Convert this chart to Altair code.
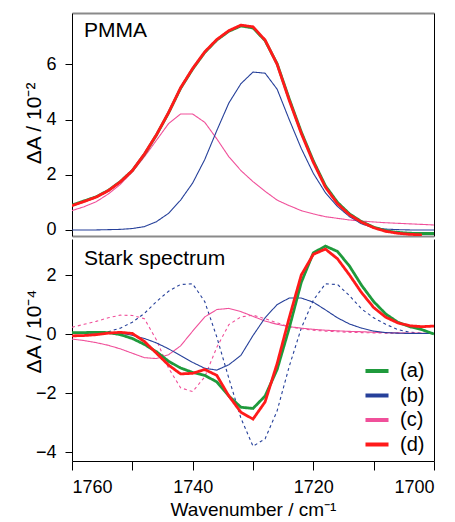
import altair as alt
import pandas as pd

FONT = "Liberation Sans"
GREEN, BLUE, PINK, RED = "#1f9a3c", "#26409a", "#f0509a", "#ff1a1a"

wn = list(range(1760, 1698, -2))  # 1760 ... 1700

# ---- PMMA absorbance (x 10^-2)
top_a = [0.90, 1.05, 1.20, 1.43, 1.75, 2.15, 2.74, 3.44, 4.24, 5.13, 5.83, 6.43, 6.88, 7.20, 7.39,
         7.32, 6.86, 6.02, 4.75, 3.55, 2.50, 1.60, 1.00, 0.58, 0.30, 0.10, -0.03, -0.09, -0.12, -0.13, -0.13]
top_b = [0.00, 0.00, 0.00, 0.01, 0.02, 0.05, 0.12, 0.30, 0.60, 1.08, 1.70, 2.55, 3.60, 4.60, 5.30,
         5.72, 5.68, 5.10, 4.00, 2.95, 2.05, 1.35, 0.85, 0.48, 0.22, 0.08, 0.03, 0.01, 0.00, 0.00, 0.00]
top_c = [0.70, 0.84, 1.02, 1.30, 1.65, 2.10, 2.65, 3.25, 3.85, 4.20, 4.20, 3.90, 3.30, 2.65, 2.15,
         1.75, 1.40, 1.08, 0.88, 0.70, 0.58, 0.48, 0.42, 0.36, 0.32, 0.29, 0.26, 0.24, 0.22, 0.20, 0.18]
top_d = [0.88, 1.03, 1.19, 1.42, 1.74, 2.15, 2.75, 3.45, 4.25, 5.15, 5.85, 6.45, 6.90, 7.22, 7.42,
         7.36, 6.88, 6.00, 4.70, 3.50, 2.45, 1.55, 0.95, 0.55, 0.28, 0.08, -0.05, -0.12, -0.16, -0.18]

# ---- Stark spectrum (x 10^-4)
bot_a = [0.05, 0.05, 0.06, 0.05, -0.02, -0.15, -0.35, -0.60, -0.92, -1.15, -1.30, -1.40, -1.62, -2.10, -2.48,
         -2.52, -2.10, -1.20, 0.20, 1.75, 2.75, 2.98, 2.80, 2.30, 1.65, 1.10, 0.68, 0.40, 0.25, 0.15, 0.00]
bot_b = [0.02, 0.03, 0.04, 0.05, 0.03, -0.04, -0.15, -0.30, -0.50, -0.73, -0.96, -1.16, -1.22, -1.04, -0.72,
         -0.05, 0.55, 1.00, 1.22, 1.22, 1.08, 0.82, 0.55, 0.34, 0.20, 0.10, 0.05, 0.03, 0.02, 0.02, 0.02]
bot_b_dash = [0.02, 0.03, 0.05, 0.08, 0.20, 0.40, 0.70, 1.10, 1.45, 1.68, 1.70, 1.10, -0.10, -1.50, -2.85,
              -3.80, -3.55, -2.60, -1.10, 0.20, 1.15, 1.70, 1.68, 1.30, 0.85, 0.55, 0.33, 0.15, 0.06, 0.03, 0.02]
bot_c = [-0.17, -0.22, -0.29, -0.38, -0.50, -0.65, -0.80, -0.83, -0.70, -0.40, 0.10, 0.58, 0.83, 0.87, 0.76,
         0.60, 0.44, 0.33, 0.25, 0.20, 0.16, 0.13, 0.11, 0.09, 0.08, 0.06, 0.05, 0.04, 0.03, 0.03, 0.02]
bot_c_dash = [0.23, 0.33, 0.43, 0.55, 0.64, 0.63, 0.52, -0.20, -1.15, -1.82, -1.95, -1.45, -0.45, 0.32, 0.58,
              0.64, 0.52, 0.38, 0.25, 0.18, 0.13, 0.10, 0.08, 0.06, 0.05, 0.04, 0.03, 0.03, 0.02, 0.02, 0.02]
bot_d = [-0.06, -0.05, -0.02, 0.03, 0.06, 0.02, -0.25, -0.65, -1.05, -1.35, -1.33, -1.20, -1.40, -2.10, -2.65,
         -2.88, -2.30, -1.00, 0.55, 2.00, 2.70, 2.88, 2.55, 2.00, 1.40, 0.90, 0.57, 0.38, 0.28, 0.25, 0.27]

SERIES = ["(a)", "(b)", "(c)", "(d)"]
color_scale = alt.Scale(domain=SERIES, range=[GREEN, BLUE, PINK, RED])
width_scale = alt.Scale(domain=["thick", "thin"], range=[2.8, 1.1])
dash_scale = alt.Scale(domain=["solid", "dash"], range=[[1, 0], [3, 3]])
x_scale = alt.Scale(domain=[1760, 1700], nice=False, zero=False)


def frame(vals, series, style, width):
    return pd.DataFrame({"wn": wn[:len(vals)], "v": vals, "series": series,
                         "style": style, "w": width})


def line_layer(df, yscale, xaxis, yaxis, legend):
    return alt.Chart(df).mark_line(clip=True).encode(
        x=alt.X("wn:Q", scale=x_scale, axis=xaxis),
        y=alt.Y("v:Q", scale=yscale, axis=yaxis),
        color=alt.Color("series:N", scale=color_scale, legend=legend),
        strokeWidth=alt.StrokeWidth("w:N", scale=width_scale, legend=None),
        strokeDash=alt.StrokeDash("style:N", scale=dash_scale, legend=None),
    )


def label_layer(text, y):
    return alt.Chart(pd.DataFrame({"t": [text]})).mark_text(
        align="left", baseline="alphabetic", fontSize=21, font=FONT, color="black"
    ).encode(x=alt.value(12), y=alt.value(y), text="t:N")


gray_axis = dict(labels=False, ticks=False, title=None, domainColor="#8a8a8a", domainWidth=2, grid=False)
right_axis = alt.Axis(orient="right", labels=False, ticks=False, title=None, domainColor="black", grid=False)


def y_axis(values, title, title_y):
    return alt.Axis(orient="left", values=values, tickSize=7, tickColor="black", domainColor="black",
                    labelFontSize=18, labelPadding=9, labelColor="black", labelFont=FONT,
                    title=title, titleFontSize=21, titleFontWeight="normal", titleFont=FONT,
                    titleColor="black", titleX=-38, titleY=title_y, titleAngle=-90,
                    titleAlign="center", titleBaseline="middle", grid=False)


W = 362
# ---------- top panel
top_y = alt.Scale(domain=[-0.22, 7.86], nice=False, zero=False)
top_layers = [
    line_layer(frame(top_c, "(c)", "solid", "thin"), top_y,
               alt.Axis(orient="bottom", **gray_axis), y_axis([0, 2, 4, 6], "ΔA / 10⁻²", 110), None),
    line_layer(frame(top_b, "(b)", "solid", "thin"), top_y,
               alt.Axis(orient="top", **gray_axis), right_axis, None),
    line_layer(frame(top_a, "(a)", "solid", "thick"), top_y, None, None, None),
    line_layer(frame(top_d, "(d)", "solid", "thick"), top_y, None, None, None),
    label_layer("PMMA", 24),
]
top = alt.layer(*top_layers).resolve_axis(x="independent", y="independent").properties(width=W, height=223)

# ---------- bottom panel
bot_y = alt.Scale(domain=[-4.3, 3.22], nice=False, zero=False)
leg = alt.Legend(orient="none", legendX=291, legendY=118, title=None, symbolType="stroke",
                 symbolStrokeWidth=4, symbolSize=530, labelFontSize=20, labelFont=FONT,
                 labelColor="black", rowPadding=0.5, labelOffset=9)
x_bottom = alt.Axis(orient="bottom", values=[1760, 1750, 1740, 1730, 1720, 1710, 1700],
                    labelExpr="datum.value % 20 == 0 ? datum.label : ''",
                    tickSize=9, tickColor="black", domainColor="black", labelFontSize=18,
                    labelColor="black", labelFont=FONT, labelPadding=8, format="d",
                    title="Wavenumber / cm⁻¹", titleFontSize=19, titleFontWeight="normal",
                    titleFont=FONT, titleColor="black", titlePadding=4, grid=False)
bot_layers = [
    line_layer(frame(bot_c_dash, "(c)", "dash", "thin"), bot_y, x_bottom,
               y_axis([-4, -2, 0, 2], "ΔA / 10⁻⁴", 92), leg),
    line_layer(frame(bot_b_dash, "(b)", "dash", "thin"), bot_y, None, right_axis, leg),
    line_layer(frame(bot_c, "(c)", "solid", "thin"), bot_y, None, None, leg),
    line_layer(frame(bot_b, "(b)", "solid", "thin"), bot_y, None, None, leg),
    line_layer(frame(bot_a, "(a)", "solid", "thick"), bot_y, None, None, leg),
    line_layer(frame(bot_d, "(d)", "solid", "thick"), bot_y, None, None, leg),
    label_layer("Stark spectrum", 26),
]
bottom = alt.layer(*bot_layers).resolve_axis(x="independent", y="independent").properties(width=W, height=222)

chart = alt.vconcat(top, bottom, spacing=0).resolve_scale(
    color="independent", strokeWidth="independent", strokeDash="independent"
).properties(
    padding={"left": 15, "top": 5, "right": 5, "bottom": 0}, background="white"
).configure_view(stroke=None).configure_axis(grid=False)

chart.save("out.html", embed_options={"renderer": "svg", "actions": False})
